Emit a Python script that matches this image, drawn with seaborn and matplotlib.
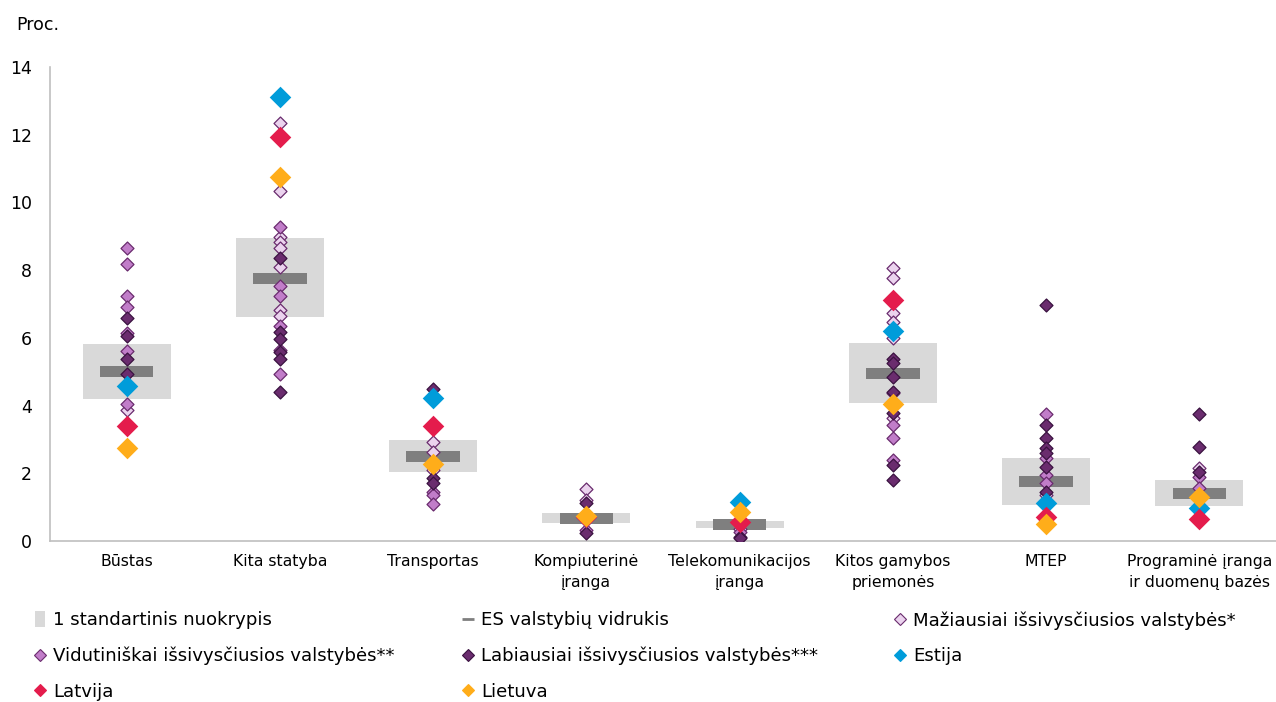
import numpy as np
import pandas as pd
import matplotlib
matplotlib.use("Agg")
import matplotlib.pyplot as plt
import seaborn as sns
from matplotlib.lines import Line2D

categories = ["Būstas", "Kita statyba", "Transportas", "Kompiuterinė\nįranga",
              "Telekomunikacijos\nįranga", "Kitos gamybos\npriemonės", "MTEP",
              "Programinė įranga\nir duomenų bazės"]

eu_mean = [5.01, 7.76, 2.50, 0.66, 0.49, 4.94, 1.76, 1.40]
sd_low = [4.19, 6.62, 2.05, 0.52, 0.37, 4.09, 1.06, 1.02]
sd_high = [5.81, 8.94, 2.98, 0.82, 0.60, 5.84, 2.46, 1.80]

least_dev = [[3.87],
             [12.34, 10.35, 8.99, 8.82, 8.64, 8.08, 6.82, 6.66],
             [2.93, 2.64, 2.10],
             [1.55, 1.21],
             [0.35],
             [8.05, 7.76, 6.72, 6.48, 5.99, 3.62],
             [1.36],
             [2.15]]
mid_dev = [[8.66, 8.17, 7.24, 6.92, 6.13, 5.61, 4.04],
           [9.28, 7.53, 7.24, 6.36, 5.64, 4.92],
           [1.46, 1.36, 1.09],
           [0.32],
           [0.27],
           [4.36, 3.43, 3.03, 2.39],
           [3.75, 2.44, 1.95, 1.70],
           [1.88, 1.56]]
most_dev = [[6.58, 6.05, 5.37, 4.93],
            [8.37, 6.18, 5.96, 5.59, 5.37, 4.41],
            [4.50, 1.85, 1.70],
            [1.11, 0.23],
            [0.13, 0.08],
            [5.37, 5.25, 4.85, 4.41, 3.77, 2.24, 1.80],
            [6.97, 3.43, 3.03, 2.74, 2.59, 2.19, 1.46],
            [3.75, 2.79, 2.05]]
estija = [4.59, 13.12, 4.21, 0.72, 1.16, 6.21, 1.11, 0.97]
latvija = [3.41, 11.94, 3.40, 0.70, 0.57, 7.12, 0.72, 0.65]
lietuva = [2.76, 10.74, 2.27, 0.74, 0.87, 4.04, 0.49, 1.31]

C_LIGHT, C_MID, C_DARK = "#EBD3EE", "#C17DC9", "#6A2C6E"
C_EST, C_LAT, C_LIT = "#009CDA", "#E41C4C", "#FFAD1A"
C_SD, C_MEAN = "#D9D9D9", "#7F7F7F"

sns.set_theme(style="white")
plt.rcParams["font.family"] = ["DejaVu Sans"]
plt.rcParams["text.color"] = "black"

fig = plt.figure(figsize=(12.76, 7.02), dpi=100)
ax = fig.add_axes([50 / 1276, 1 - 541 / 702, 1 - 50 / 1276, (541 - 67) / 702])

def long_df(nested):
    rows = [(c, v) for c, vals in zip(categories, nested) for v in vals]
    return pd.DataFrame(rows, columns=["cat", "val"])

pos = np.arange(len(categories))
ax.bar(pos, np.array(sd_high) - np.array(sd_low), bottom=sd_low, width=0.575,
       color=C_SD, zorder=1, linewidth=0)
mh = 0.32
ax.bar(pos, mh, bottom=np.array(eu_mean) - mh / 2, width=0.35, color=C_MEAN,
       zorder=2, linewidth=0)

small = 6.6
for nested, fc, ec in [(least_dev, C_LIGHT, "#6A2C6E"), (mid_dev, C_MID, "#6A2C6E"),
                       (most_dev, C_DARK, "#3A1240")]:
    sns.stripplot(data=long_df(nested), x="cat", y="val", order=categories,
                  jitter=False, marker="D", size=small, color=fc, edgecolor=ec,
                  linewidth=0.9, ax=ax, zorder=3)

big = 11
for vals, col in [(estija, C_EST), (latvija, C_LAT), (lietuva, C_LIT)]:
    df = pd.DataFrame({"cat": categories, "val": vals})
    sns.stripplot(data=df, x="cat", y="val", order=categories, jitter=False,
                  marker="D", size=big, color=col, linewidth=0, ax=ax, zorder=4)

ax.set_xlim(-0.5, len(categories) - 0.5)
ax.set_ylim(0, 14)
ax.set_yticks(range(0, 15, 2))
ax.set_xlabel("")
ax.set_ylabel("")
for s in ["top", "right"]:
    ax.spines[s].set_visible(False)
for s in ["left", "bottom"]:
    ax.spines[s].set_color("#BFBFBF")
    ax.spines[s].set_linewidth(1.2)
ax.tick_params(axis="y", length=0, pad=13, labelsize=12.5, colors="#000000")
ax.tick_params(axis="x", length=0, pad=9.5, labelsize=11.3, colors="#000000")
for t in ax.get_xticklabels():
    t.set_linespacing(1.5)
ax.grid(False)

fig.text(16 / 1276, 1 - 25 / 702, "Proc.", fontsize=12.5, va="center", ha="left",
         color="black")

def dmark(col, ec=None, ms=7):
    return Line2D([], [], marker="D", linestyle="none", markersize=ms,
                  markerfacecolor=col, markeredgecolor=ec or col, markeredgewidth=0.8)

rect = [(-0.32, -0.5), (0.32, -0.5), (0.32, 0.5), (-0.32, 0.5), (-0.32, -0.5)]
h_sd = Line2D([], [], marker=rect, linestyle="none", markersize=11,
              markerfacecolor=C_SD, markeredgecolor=C_SD, markeredgewidth=0)
h_mean = Line2D([], [], marker="_", linestyle="none", markersize=8,
                markeredgewidth=2, color=C_MEAN)

columns = [
    (34, [h_sd, dmark(C_MID, "#6A2C6E", 6), dmark(C_LAT, ms=6.5)],
     ["1 standartinis nuokrypis", "Vidutiniškai išsivysčiusios valstybės**", "Latvija"]),
    (462, [h_mean, dmark(C_DARK, "#3A1240", 6), dmark(C_LIT, ms=6.5)],
     ["ES valstybių vidrukis", "Labiausiai išsivysčiusios valstybės***", "Lietuva"]),
    (894, [dmark(C_LIGHT, "#6A2C6E", 6), dmark(C_EST, ms=6.5)],
     ["Mažiausiai išsivysčiusios valstybės*", "Estija"]),
]
for x, hs, ls in columns:
    leg = fig.legend(hs, ls, loc="upper left", bbox_to_anchor=(x / 1276, 1 - 611 / 702),
                     frameon=False, fontsize=13.1, handlelength=0.7, handletextpad=0.35,
                     labelspacing=0.97, borderpad=0, borderaxespad=0)
    for t in leg.get_texts():
        t.set_color("black")

fig.savefig("out.png", dpi=100)
